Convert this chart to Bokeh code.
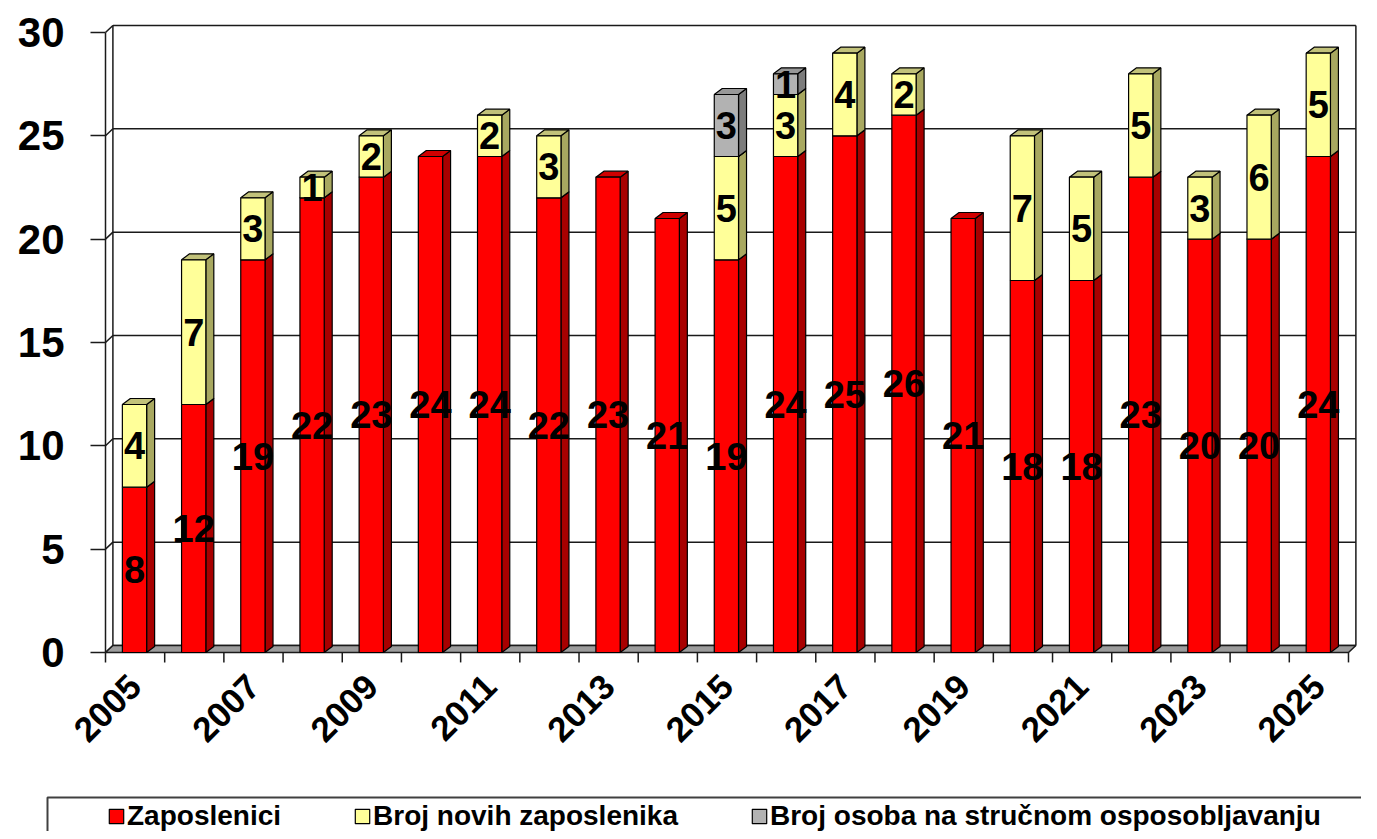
import math
from bokeh.plotting import figure
from bokeh.models import Range1d, FixedTicker, Legend, LegendItem, LinearAxis
from bokeh.core.properties import value
from bokeh.embed import file_html
from bokeh.resources import INLINE

# ---------------- data ----------------
years = [str(y) for y in range(2005, 2026)]
zaposlenici = [8, 12, 19, 22, 23, 24, 24, 22, 23, 21, 19, 24, 25, 26, 21, 18, 18, 23, 20, 20, 24]
novi = [4, 7, 3, 1, 2, 0, 2, 3, 0, 0, 5, 3, 4, 2, 0, 7, 5, 5, 3, 6, 5]
strucno = [0, 0, 0, 0, 0, 0, 0, 0, 0, 0, 3, 1, 0, 0, 0, 0, 0, 0, 0, 0, 0]
series_names = ["Zaposlenici", "Broj novih zaposlenika", "Broj osoba na stručnom osposobljavanju"]
y_ticks = [0, 5, 10, 15, 20, 25, 30]
x_tick_labels = years[::2]

# ---------------- styles / geometry ----------------
FONT = "Liberation Sans"
front_colors = ["#FF0000", "#FFFF99", "#B2B2B2"]
side_colors = ["#A80000", "#A8A860", "#7C7C7C"]
top_colors = ["#D00000", "#C2C27A", "#989898"]
BAR_W = 0.41
BAR_SHIFT = -0.01
BX, BY = 0.135, 0.29     # bar depth offset (data units)
WX, WY = 0.125, 0.34     # wall depth offset (data units)
W, H = 1361, 831
PX_X = 59.19             # pixels per category
PX_Y = 20.667            # pixels per unit
LEFT_PX, ZERO_PX = 105, 652

xs = [int(y) for y in years]
x0 = xs[0] - 0.5
x1 = xs[-1] + 0.5
xs_start = x0 - LEFT_PX / PX_X
ys_end = ZERO_PX / PX_Y
ys_start = -(H - ZERO_PX) / PX_Y


def px_x(px):
    return xs_start + px / PX_X


def px_y(py):
    return (ZERO_PX - py) / PX_Y


p = figure(width=W, height=H,
           x_range=Range1d(xs_start, xs_start + W / PX_X), y_range=Range1d(ys_start, ys_end),
           output_backend="svg", toolbar_location=None,
           x_axis_location=None, y_axis_location=None, min_border=0)
p.outline_line_color = None
p.grid.visible = False
p.background_fill_color = "white"

# walls, gridlines, floor
p.multi_line(xs=[[x0 + WX, x1 + WX] for v in y_ticks], ys=[[v + WY, v + WY] for v in y_ticks],
             line_color="#1a1a1a", line_width=1.5)
p.multi_line(xs=[[x0, x0 + WX] for v in y_ticks], ys=[[v, v + WY] for v in y_ticks],
             line_color="#1a1a1a", line_width=1.5)
p.multi_line(xs=[[x0, x0], [x0 + WX, x0 + WX], [x1 + WX, x1 + WX]],
             ys=[[0, y_ticks[-1]], [WY, y_ticks[-1] + WY], [WY, y_ticks[-1] + WY]],
             line_color="#1a1a1a", line_width=1.5)
p.patch(x=[x0, x1, x1 + WX, x0 + WX], y=[0, 0, WY, WY], fill_color="#9C9C9C",
        line_color="#1a1a1a", line_width=1.5)
# category tick marks
p.segment(x0=[x0 + k for k in range(len(xs) + 1)], y0=[0] * (len(xs) + 1),
          x1=[x0 + k for k in range(len(xs) + 1)], y1=[-0.48] * (len(xs) + 1),
          line_color="#1a1a1a", line_width=1.5)

# bars
bottoms = [0] * len(xs)
lab_x, lab_y, lab_t = [], [], []
front_renderers = []
for s_idx, vals in enumerate([zaposlenici, novi, strucno]):
    fl, fr, fb, ft = [], [], [], []
    sx, sy, tx, ty = [], [], [], []
    for i, v in enumerate(vals):
        if v == 0:
            continue
        b = bottoms[i]
        t = b + v
        c = xs[i] + BAR_SHIFT
        l, r = c - BAR_W / 2, c + BAR_W / 2
        fl.append(l); fr.append(r); fb.append(b); ft.append(t)
        sx.append([r, r + BX, r + BX, r]); sy.append([b, b + BY, t + BY, t])
        tx.append([l, r, r + BX, l + BX]); ty.append([t, t, t + BY, t + BY])
        lab_x.append(c); lab_y.append(b + v / 2); lab_t.append(str(v))
        bottoms[i] = t
    p.patches(xs=sx, ys=sy, fill_color=side_colors[s_idx], line_color="black", line_width=1.2)
    p.patches(xs=tx, ys=ty, fill_color=top_colors[s_idx], line_color="black", line_width=1.2)
    fr_r = p.quad(left=fl, right=fr, bottom=fb, top=ft, fill_color=front_colors[s_idx],
                  line_color="black", line_width=1.2)
    front_renderers.append(fr_r)

p.text(x=lab_x, y=lab_y, text=lab_t, text_font=value(FONT), text_font_size="38px",
       text_font_style="bold", text_align="center", text_baseline="middle", text_color="black")

# axes (pinned inside the plot area)
yaxis = LinearAxis(fixed_location=x0, ticker=FixedTicker(ticks=y_ticks))
yaxis.axis_line_color = None
yaxis.major_tick_out = 15
yaxis.major_tick_in = 0
yaxis.major_tick_line_color = "#1a1a1a"
yaxis.major_tick_line_width = 1.5
yaxis.minor_tick_line_color = None
yaxis.major_label_text_font = FONT
yaxis.major_label_text_font_size = "42px"
yaxis.major_label_text_font_style = "bold"
yaxis.major_label_text_color = "black"
yaxis.major_label_standoff = 26
p.add_layout(yaxis, "left")

tick_years = [int(s) for s in x_tick_labels]
xaxis = LinearAxis(fixed_location=px_y(664), ticker=FixedTicker(ticks=tick_years))
xaxis.major_label_overrides = {y: s for y, s in zip(tick_years, x_tick_labels)}
xaxis.axis_line_color = None
xaxis.major_tick_line_color = None
xaxis.minor_tick_line_color = None
xaxis.major_label_orientation = math.pi / 4
xaxis.major_label_text_font = FONT
xaxis.major_label_text_font_size = "35px"
xaxis.major_label_text_font_style = "bold"
xaxis.major_label_text_color = "black"
xaxis.major_label_standoff = 10
p.add_layout(xaxis, "below")

# ---------------- legend ----------------
p.line(x=[px_x(47), px_x(47), px_x(W + 5)], y=[px_y(H + 5), px_y(797), px_y(797)],
       line_color="#404040", line_width=2)

items = [LegendItem(label=name, renderers=[r]) for name, r in zip(series_names, front_renderers)]
legend = Legend(items=items, orientation="horizontal", location=(107, -1),
                glyph_width=18, glyph_height=18, label_standoff=2, spacing=72, padding=4,
                border_line_color=None, background_fill_alpha=0,
                label_text_font=FONT, label_text_font_size="28px",
                label_text_font_style="bold", label_text_color="black")
p.add_layout(legend)

open("out.html", "w").write(file_html(p, INLINE))
